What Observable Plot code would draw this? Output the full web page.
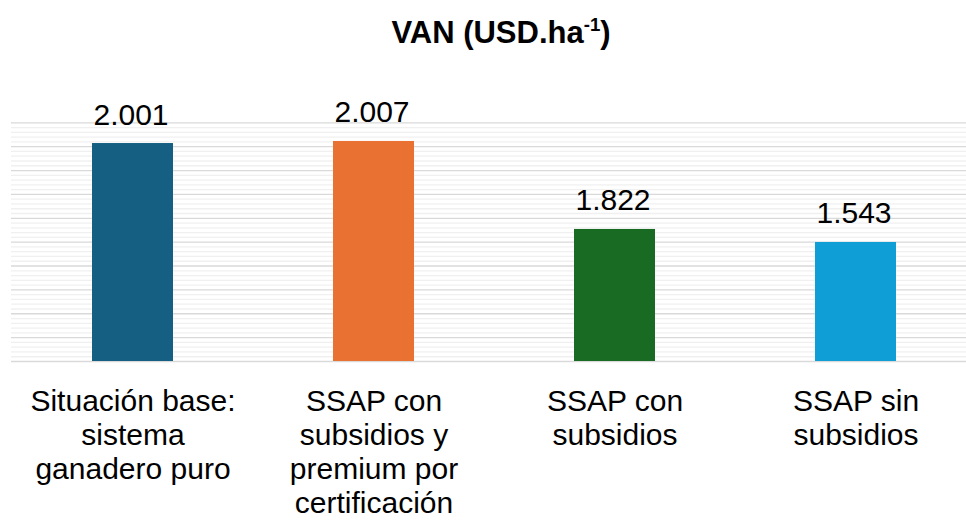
<!DOCTYPE html>
<html><head><meta charset="utf-8">
<script src="https://cdn.jsdelivr.net/npm/d3@7"></script>
<script src="https://cdn.jsdelivr.net/npm/@observablehq/plot@0.6"></script>
<style>
body{margin:0;background:#fff;font-family:"Liberation Sans",Arial,sans-serif;}
#title{height:70px;position:relative;}
#title span{position:absolute;left:0;width:966px;padding-left:36px;box-sizing:border-box;text-align:center;top:17px;font-size:31px;font-weight:bold;line-height:31px;color:#000;white-space:nowrap}
#title sup{font-size:0.6em;line-height:0;vertical-align:0.65em}
</style></head><body>
<div id="title"><span>VAN (USD.ha<sup>-1</sup>)</span></div>
<div id="chart"></div>
<script>
// Categories (x axis labels)
const categories = [
  "Situación base:\nsistema\nganadero puro",
  "SSAP con\nsubsidios y\npremium por\ncertificación",
  "SSAP con\nsubsidios",
  "SSAP sin\nsubsidios"
];
// Printed VAN values (USD/ha)
const vanLabels = [2001, 2007, 1822, 1543];
const barLengths = [2009, 2028, 1217, 1097];
const barColors = ["#156082", "#E97132", "#196B24", "#0F9ED5"];
const yDomain = [0, 2200];
const majorStep = 220;
const minorStep = 44;

const fmt = d3.formatLocale({decimal: ",", thousands: ".", grouping: [3], currency: ["", "$"]}).format(",d");
const data = categories.map((c, i) => ({cat: c, label: vanLabels[i], len: barLengths[i]}));
const majorTicks = d3.range(yDomain[0], yDomain[1] + 1, majorStep);
const minorTicks = d3.range(yDomain[0], yDomain[1] + 1, minorStep).filter(v => v % majorStep !== 0);

const chart = Plot.plot({
  width: 966,
  height: 450,
  marginTop: 52.3,
  marginBottom: 159,
  marginLeft: 11,
  marginRight: 0,
  x: {domain: categories, range: [11.5, 976.5], paddingInner: 0.664, paddingOuter: 0.332, axis: null},
  y: {domain: yDomain, axis: null},
  color: {domain: categories, range: barColors},
  style: {fontFamily: "'Liberation Sans', Arial, sans-serif", background: "white", overflow: "visible"},
  marks: [
    Plot.ruleY(minorTicks, {stroke: "#F0F0F0", strokeWidth: 1.3}),
    Plot.ruleY(majorTicks, {stroke: "#D9D9D9", strokeWidth: 1.3}),
    Plot.barY(data, {x: "cat", y: "len", fill: "cat"}),
    Plot.text(data, {x: "cat", y: "len", text: d => fmt(d.label), lineAnchor: "bottom", dy: -19, dx: -2, fontSize: 30, fill: "#000"}),
    Plot.text(data, {x: "cat", frameAnchor: "bottom", text: "cat", lineAnchor: "top", dy: 25.5, fontSize: 30, lineHeight: 1.13, fill: "#000"})
  ]
});
document.getElementById("chart").appendChild(chart);
</script>
</body></html>
